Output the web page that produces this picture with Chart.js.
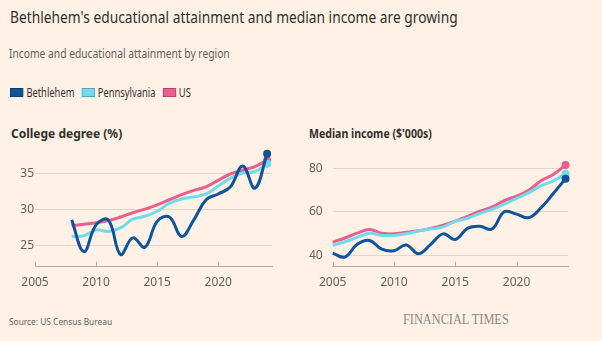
<!DOCTYPE html>
<html>
<head>
<meta charset="utf-8">
<script src="https://cdn.jsdelivr.net/npm/chart.js@4"></script>
<style>
  body { margin: 0; background: #fff1e5; width: 602px; height: 341px; overflow: hidden; font-family: "Noto Sans", sans-serif; }
  .abs { position: absolute; white-space: nowrap; transform-origin: 0 0; }
  #title { left: 10px; top: 5px; font-size: 17px; color: #33302e; transform: scaleX(0.81); }
  #subtitle { left: 9px; top: 44px; font-size: 13px; color: #66605c; transform: scaleX(0.79); }
  #legend { left: 10px; top: 84px; font-size: 12px; color: #33302e; display: flex; align-items: center; transform: scaleX(0.78); }
  #legend span.sw { display: inline-block; width: 15px; height: 7px; margin-right: 4px; border: 1px solid rgba(0,0,0,0.25); }
  #legend span.lb { margin-right: 9px; }
  .ctitle { top: 125px; font-size: 12px; font-weight: bold; color: #33302e; }
  #source { left: 9px; top: 315px; font-size: 9.5px; color: #66605c; transform: scaleX(0.88); }
  #ft { left: 403px; top: 312px; font-size: 14px; color: #8f8781; font-family: "Liberation Serif", "DejaVu Serif", serif; transform: scaleX(0.88); }
  canvas { position: absolute; }
</style>
</head>
<body>
<div class="abs" id="title">Bethlehem's educational attainment and median income are growing</div>
<div class="abs" id="subtitle">Income and educational attainment by region</div>
<div class="abs" id="legend"></div>
<div class="abs ctitle" style="left:11px">College degree (%)</div>
<div class="abs ctitle" style="left:309px;transform:scaleX(0.88)">Median income ($'000s)</div>
<div style="position:absolute;left:0;top:140px;width:280px;height:160px"><canvas id="eduChart"></canvas></div>
<div style="position:absolute;left:296px;top:140px;width:280px;height:160px"><canvas id="incChart"></canvas></div>
<div class="abs" id="source">Source: US Census Bureau</div>
<div class="abs" id="ft">FINANCIAL TIMES</div>

<script>
    // Series names and colours
    const seriesNames = ['Bethlehem', 'Pennsylvania', 'US'];
    const seriesColors = ['#0f5499', '#70dbed', '#eb5e8d'];

    // College degree (%)
    const eduYears = [2008, 2009, 2010, 2011, 2012, 2013, 2014, 2015, 2016, 2017, 2018, 2019, 2020, 2021, 2022, 2023, 2024];
    const eduBethlehem = [28.5, 24.1, 27.8, 28.5, 23.7, 26.0, 24.7, 28.3, 28.9, 26.2, 28.5, 31.3, 32.1, 33.1, 36.0, 32.9, 37.7];
    const eduPennsylvania = [26.2, 26.3, 27.1, 26.9, 27.4, 28.6, 29.0, 29.7, 30.8, 31.4, 31.7, 32.1, 33.2, 34.3, 35.0, 35.2, 36.3];
    const eduUS = [27.7, 27.9, 28.1, 28.4, 28.9, 29.5, 30.0, 30.6, 31.3, 32.0, 32.6, 33.1, 34.0, 34.9, 35.4, 35.9, 36.8];
    const eduYTicks = [25, 30, 35];

    // Median income ($'000s)
    const incYears = [2005, 2006, 2007, 2008, 2009, 2010, 2011, 2012, 2013, 2014, 2015, 2016, 2017, 2018, 2019, 2020, 2021, 2022, 2023, 2024];
    const incBethlehem = [41.2, 39.4, 45.2, 47.0, 43.0, 42.3, 44.9, 40.9, 45.2, 50.0, 47.4, 52.5, 53.5, 52.2, 60.1, 59.0, 57.4, 61.9, 68.4, 75.2];
    const incPennsylvania = [44.8, 46.4, 48.4, 50.3, 49.3, 49.3, 50.0, 51.3, 52.2, 53.2, 55.7, 57.1, 59.3, 61.2, 63.6, 66.2, 68.8, 72.0, 74.2, 77.5];
    const incUS = [46.2, 48.1, 50.3, 52.0, 50.3, 50.0, 50.7, 51.4, 52.5, 53.9, 55.8, 58.0, 60.4, 62.2, 65.2, 67.2, 69.9, 74.2, 77.1, 81.4];
    const incYTicks = [40, 60, 80];

    const xTicks = [2005, 2010, 2015, 2020];

    // legend
    const legend = document.getElementById('legend');
    seriesNames.forEach((n, i) => {
        legend.innerHTML += '<span class="sw" style="background:' + seriesColors[i] + '"></span><span class="lb">' + n + '</span>';
    });

    // small upward tick marks on the x axis
    const upTicks = {
        id: 'upTicks',
        afterDraw(chart) {
            const x = chart.scales.x, ctx = chart.ctx, bottom = chart.chartArea.bottom;
            ctx.save();
            ctx.strokeStyle = '#b8ada4';
            ctx.lineWidth = 1;
            xTicks.forEach(v => {
                const px = Math.round(x.getPixelForValue(v)) + 0.5;
                ctx.beginPath();
                ctx.moveTo(px, bottom);
                ctx.lineTo(px, bottom - 5);
                ctx.stroke();
            });
            ctx.restore();
        }
    };

    function makeDataset(years, values, i) {
        return {
            label: seriesNames[i],
            data: years.map((y, k) => ({ x: y, y: values[k] })),
            borderColor: seriesColors[i],
            backgroundColor: seriesColors[i],
            borderWidth: 3,
            tension: 0.4,
            order: i,
            clip: false,
            pointBorderWidth: 0,
            pointRadius: ctx => ctx.dataIndex === years.length - 1 ? 4 : 0,
            pointHoverRadius: 0
        };
    }

    function makeChart(id, years, series, yMin, yMax, yTicks, xMax, yWidth, yPad) {
        return new Chart(document.getElementById(id), {
            type: 'line',
            data: { datasets: series.map((s, i) => makeDataset(years, s, i)) },
            options: {
                responsive: true,
                maintainAspectRatio: false,
                animation: false,
                layout: { padding: { top: 11.5, right: 8, left: 0, bottom: 0 } },
                plugins: { legend: { display: false }, tooltip: { enabled: false } },
                scales: {
                    x: {
                        type: 'linear',
                        min: 2005,
                        max: xMax,
                        afterBuildTicks: s => { s.ticks = xTicks.map(v => ({ value: v })); },
                        afterFit: s => { s.height = 33.3; },
                        grid: { drawOnChartArea: false, drawTicks: false },
                        border: { color: '#b8ada4', width: 1 },
                        ticks: { padding: 9, color: '#66605c', font: { family: 'Noto Sans', size: 12 }, maxRotation: 0, callback: v => String(v) }
                    },
                    y: {
                        min: yMin,
                        max: yMax,
                        afterBuildTicks: s => { s.ticks = yTicks.map(v => ({ value: v })); },
                        afterFit: s => { s.width = yWidth; },
                        grid: { color: '#e3d6cb', drawTicks: false },
                        border: { display: false },
                        ticks: { padding: yPad, color: '#66605c', font: { family: 'Noto Sans', size: 12 } }
                    }
                }
            },
            plugins: [upTicks]
        });
    }

    makeChart('eduChart', eduYears, [eduBethlehem, eduPennsylvania, eduUS], 22, 38, eduYTicks, 2024.4, 35, 1);
    makeChart('incChart', incYears, [incBethlehem, incPennsylvania, incUS], 35, 85, incYTicks, 2024.2, 36.7, 10);
</script>
</body>
</html>
